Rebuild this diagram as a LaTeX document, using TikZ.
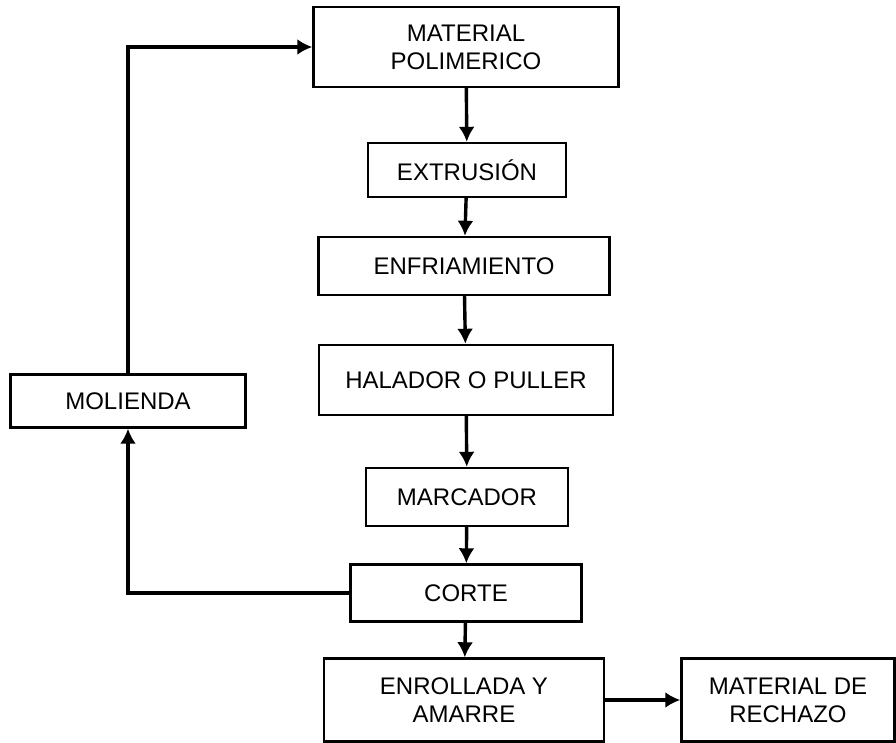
\documentclass[tikz,border=0pt]{standalone}
\usepackage{fontspec}
\setmainfont{Liberation Sans}
\usetikzlibrary{arrows.meta}
\tikzstyle{etapa}=[rectangle, draw, line width=1.2pt, align=center, inner sep=0pt, fill=white, font=\fontsize{12}{14}\selectfont]
\tikzstyle{flecha}=[line width=1.7pt, -{Latex[length=7.5pt,width=8pt]}]
\newcommand{\etapa}{\node[etapa]}

\begin{document}
\begin{tikzpicture}[x=0.5pt,y=-0.5pt]
\useasboundingbox (0,0) rectangle (896,743);
\etapa (mat) at (466,47) [minimum width=152.5pt, minimum height=40pt]{MATERIAL\\POLIMERICO};
\etapa (ext) at (467,170) [minimum width=99pt, minimum height=27pt]{EXTRUSIÓN};
\etapa (enf) at (464,266) [minimum width=145.5pt, minimum height=29pt]{ENFRIAMIENTO};
\etapa (hal) at (466,380) [minimum width=147pt, minimum height=35pt]{HALADOR O PULLER};
\etapa (mar) at (467,497) [minimum width=101pt, minimum height=29pt]{MARCADOR};
\etapa (cor) at (466,593) [minimum width=115.5pt, minimum height=28.5pt]{CORTE};
\etapa (enr) at (464,700) [minimum width=140pt, minimum height=41.5pt]{ENROLLADA Y\\AMARRE};
\etapa (rec) at (788,700) [minimum width=106.5pt, minimum height=41.5pt]{MATERIAL DE\\RECHAZO};
\etapa (mol) at (128,401) [minimum width=117.5pt, minimum height=26.5pt]{MOLIENDA};
% linea principal
\foreach \a/\b in {mat/ext, ext/enf, enf/hal, hal/mar, mar/cor, cor/enr}{
	\draw[flecha] (\a) -- (\b);
	}
\draw[flecha] (enr) -- (rec);
% retorno por molienda
\draw[flecha] (cor.west) -| (mol.south);
\draw[flecha] (mol.north) |- (mat.west);
\end{tikzpicture}
\end{document}
